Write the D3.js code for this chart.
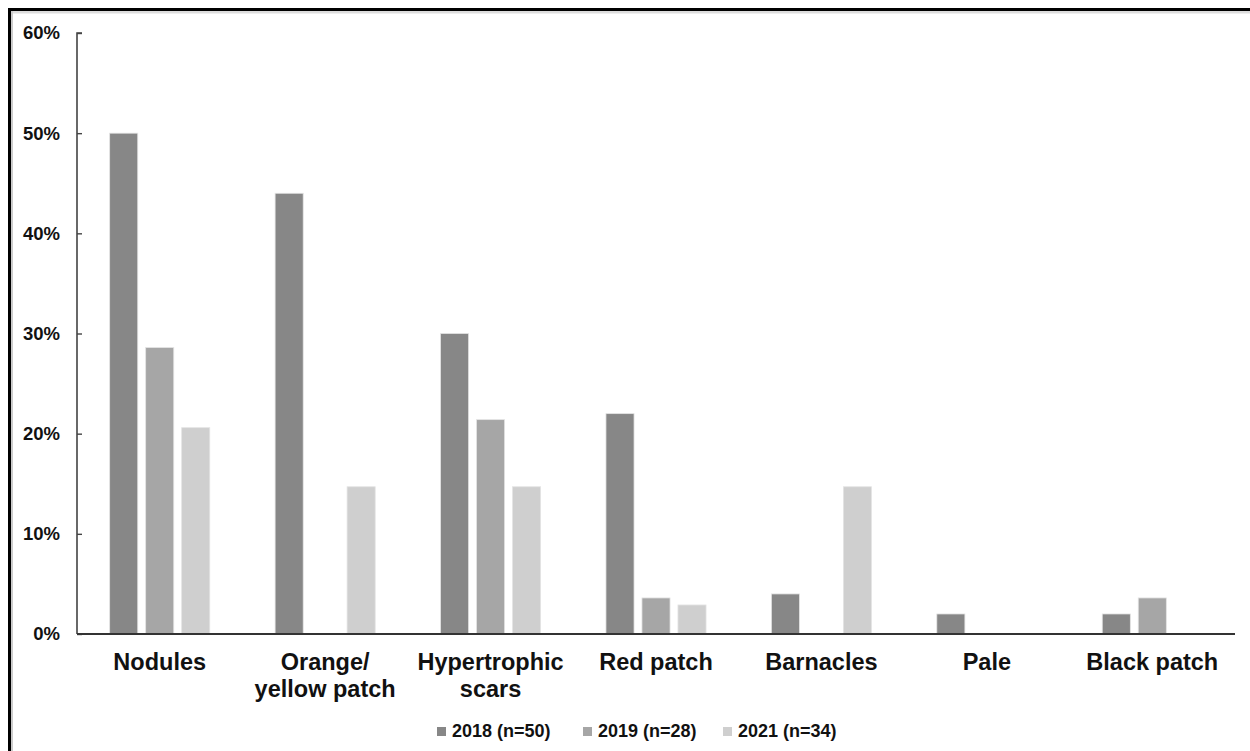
<!DOCTYPE html>
<html>
<head>
<meta charset="utf-8">
<script src="https://cdn.jsdelivr.net/npm/d3@7"></script>
<style>
  body { margin: 0; background: #fff; }
  svg { display: block; }
  text { font-family: "Liberation Sans", Arial, sans-serif; font-weight: bold; fill: #111; }
</style>
</head>
<body>
<div id="chart"></div>
<script>
// data
const categories = ["Nodules", "Orange/\nyellow patch", "Hypertrophic\nscars", "Red patch", "Barnacles", "Pale", "Black patch"];
const seriesNames = ["2018 (n=50)", "2019 (n=28)", "2021 (n=34)"];
const values2018 = [50, 44, 30, 22, 4, 2, 2];
const values2019 = [28.6, 0, 21.4, 3.6, 0, 0, 3.6];
const values2021 = [20.6, 14.7, 14.7, 2.9, 14.7, 0, 0];
const yTicks = [0, 10, 20, 30, 40, 50, 60];
const colors = ["#878787", "#a6a6a6", "#cfcfcf"];

const W = 1250, H = 751;
const margin = { top: 33, right: 15, bottom: 117, left: 77 };
const width = W - margin.left - margin.right,
      height = H - margin.top - margin.bottom;

const root = d3.select("#chart").append("svg")
    .attr("width", W)
    .attr("height", H);

// khung viền
root.append("line").attr("x1", 8).attr("x2", W).attr("y1", 12).attr("y2", 12)
    .attr("stroke", "#ddd").attr("stroke-width", 3);
root.append("line").attr("x1", 12).attr("x2", 12).attr("y1", 8).attr("y2", H)
    .attr("stroke", "#ccc").attr("stroke-width", 2);
root.append("line").attr("x1", 8).attr("x2", W).attr("y1", 9.5).attr("y2", 9.5)
    .attr("stroke", "#000").attr("stroke-width", 3);
root.append("line").attr("x1", 9.5).attr("x2", 9.5).attr("y1", 8).attr("y2", H)
    .attr("stroke", "#000").attr("stroke-width", 3);

const svg = root.append("g")
    .attr("transform", `translate(${margin.left},${margin.top})`);

const rows = categories.map((c, i) => ({
    cat: c,
    vals: [values2018[i], values2019[i], values2021[i]]
}));

const x = d3.scaleBand()
    .domain(categories)
    .range([0, width])
    .padding(0);

const x1 = d3.scaleBand()
    .domain(d3.range(3))
    .range([0, 108])
    .paddingInner(0.22)
    .paddingOuter(0.11);

const y = d3.scaleLinear()
    .domain([0, 60])
    .range([height, 0]);

// bars
const groups = svg.selectAll(".grp")
    .data(rows)
    .enter()
    .append("g")
    .attr("class", "grp")
    .attr("transform", d => `translate(${x(d.cat) + x.bandwidth() / 2 - 54},0)`);

groups.selectAll("rect")
    .data(d => d.vals.map((v, k) => ({ v, k })).filter(e => e.v > 0))
    .enter()
    .append("rect")
    .attr("x", e => x1(e.k))
    .attr("y", e => y(e.v))
    .attr("width", x1.bandwidth())
    .attr("height", e => height - y(e.v))
    .attr("fill", e => colors[e.k])
    .attr("stroke", "#e4e4e4")
    .attr("stroke-width", 0.8);

// y axis
const yAxis = svg.append("g")
    .call(d3.axisRight(y).tickValues(yTicks).tickSize(5).tickFormat(d => d + "%"));
yAxis.select(".domain").attr("stroke", "#444").attr("stroke-width", 1.6)
    .attr("d", `M5,0H0V${height}`);
yAxis.selectAll(".tick line").attr("stroke", "#444").attr("stroke-width", 1.4);
yAxis.selectAll(".tick text")
    .attr("x", -17)
    .attr("dy", "0.32em")
    .attr("text-anchor", "end")
    .style("font-size", "18.5px")
    .style("font-family", "Liberation Sans, Arial, sans-serif")
    .style("font-weight", "bold")
    .attr("fill", "#111");

// x axis line
svg.append("line")
    .attr("x1", 0).attr("x2", width)
    .attr("y1", height).attr("y2", height)
    .attr("stroke", "#333").attr("stroke-width", 1.8);

// category labels
const lbl = svg.selectAll(".cat")
    .data(categories)
    .enter()
    .append("text")
    .attr("class", "cat")
    .attr("text-anchor", "middle")
    .attr("y", height + 36)
    .style("font-size", "23.5px");
lbl.selectAll("tspan")
    .data(d => d.split("\n").map(t => ({ t, c: d })))
    .enter()
    .append("tspan")
    .attr("x", d => x(d.c) + x.bandwidth() / 2)
    .attr("dy", (d, i) => i === 0 ? 0 : 27)
    .text(d => d.t);

// legend
const legendX = [437, 583, 723];
const legend = root.selectAll(".leg")
    .data(seriesNames)
    .enter()
    .append("g")
    .attr("class", "leg")
    .attr("transform", (d, i) => `translate(${legendX[i]},737)`);
legend.append("rect")
    .attr("x", 0).attr("y", -10)
    .attr("width", 9).attr("height", 9)
    .attr("fill", (d, i) => colors[i]);
legend.append("text")
    .attr("x", 15)
    .style("font-size", "18px")
    .text(d => d);
</script>
</body>
</html>
